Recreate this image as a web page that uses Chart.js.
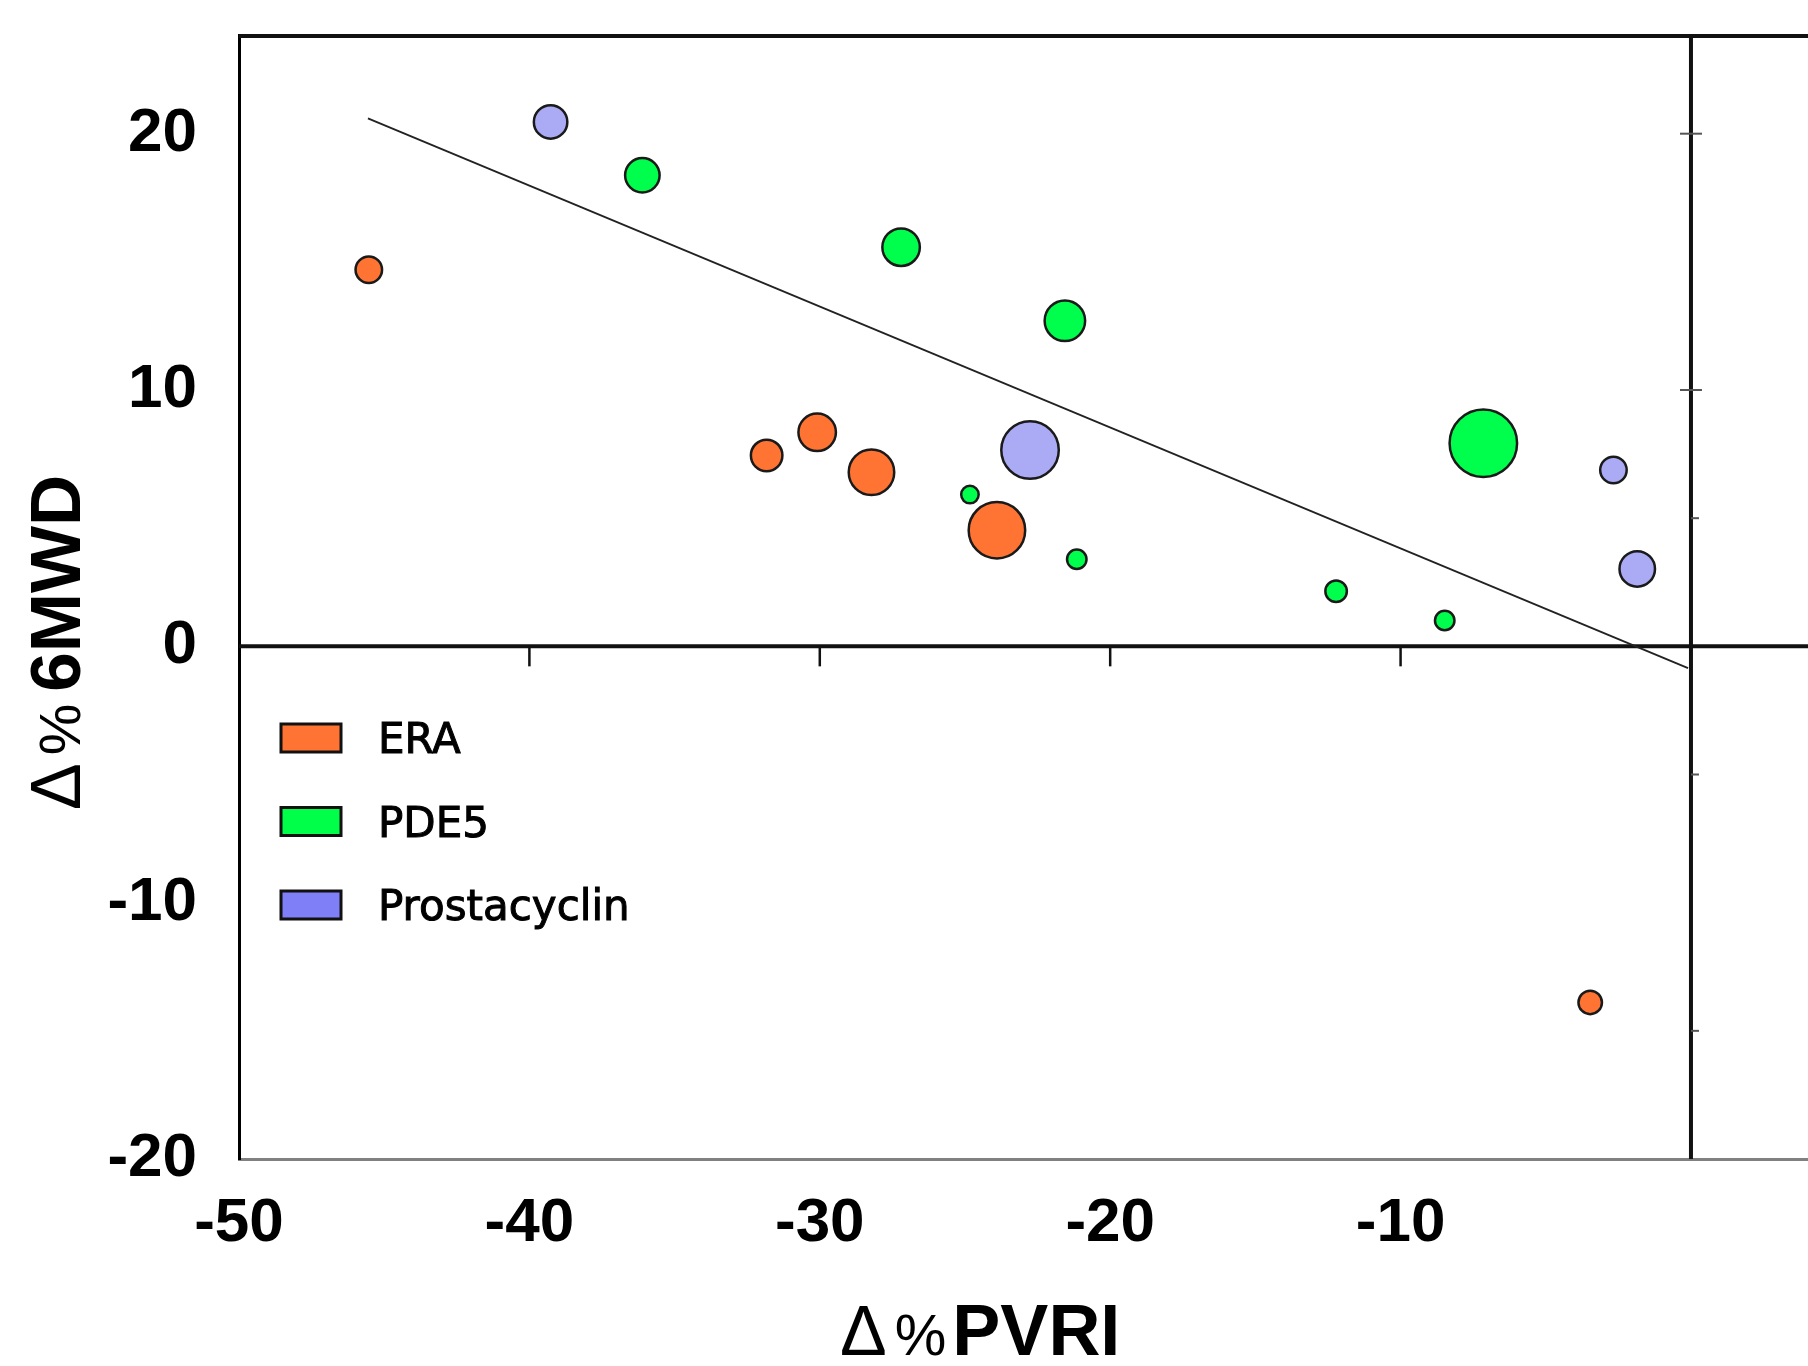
<!DOCTYPE html>
<html>
<head>
<meta charset="utf-8">
<title>Δ%PVRI vs Δ%6MWD</title>
<script src="https://cdn.jsdelivr.net/npm/chart.js@4.4.1/dist/chart.umd.min.js"></script>
<style>
  html, body { margin: 0; padding: 0; background: #fff; }
  canvas { display: block; }
</style>
</head>
<body>
<canvas id="myChart" width="1808" height="1366"></canvas>
<script>
/* ================================
   values
================================ */
const seriesNames = ['ERA', 'PDE5', 'Prostacyclin'];

// ERA
const eraX = [-45.53, -31.83, -30.09, -28.22, -23.9, -3.47];
const eraY = [14.69, 7.45, 8.35, 6.79, 4.53, -13.89];
const eraSize = [14.5, 17, 20, 24, 29.5, 13];

// PDE5
const pdeX = [-36.11, -27.2, -21.56, -24.83, -21.15, -12.22, -8.48, -7.15];
const pdeY = [18.38, 15.57, 12.7, 5.92, 3.4, 2.15, 1.01, 7.92];
const pdeSize = [18.5, 20, 21.5, 10, 11, 12, 11, 35];

// Prostacyclin
const proX = [-39.27, -22.76, -2.67, -1.85];
const proY = [20.46, 7.66, 6.88, 3.02];
const proSize = [18, 30, 14.5, 19];

// fitted line end points
const fitX = [-45.56, -0.1];
const fitY = [20.6, -0.85];

// ticks
const xTicks = [-50, -40, -30, -20, -10];
const yTicks = [-20, -10, 0, 10, 20];
const rightMajorTicks = [20, 10];
const rightMinorTicks = [5, -5, -15];

const pointColors = ['#FF7433', '#00FF4C', '#AAAAF5'];
const legendColors = ['#FF7433', '#00FF48', '#7F7FF7'];
const FONT = '"Liberation Sans", Arial, sans-serif';

function toBubbles(xs, ys, sizes) {
  return xs.map((v, i) => ({ x: v, y: ys[i], r: sizes[i] - 1.25 }));
}

function bubbleSet(name, color, xs, ys, sizes) {
  return {
    label: name,
    data: toBubbles(xs, ys, sizes),
    backgroundColor: color,
    borderColor: '#1a1a1a',
    borderWidth: 2.5,
    order: 0
  };
}

// axis lines through zero, top frame line, little ticks
const crossAxes = {
  id: 'crossAxes',
  beforeDatasetsDraw(chart) {
    const { ctx, chartArea: a, scales: { x, y } } = chart;
    const x0 = x.getPixelForValue(0);
    const y0 = y.getPixelForValue(0);
    const seg = (x1, y1, x2, y2) => {
      ctx.beginPath();
      ctx.moveTo(x1, y1);
      ctx.lineTo(x2, y2);
      ctx.stroke();
    };
    ctx.save();
    ctx.strokeStyle = '#111';
    ctx.lineWidth = 4;
    seg(a.left, a.top + 1, a.right, a.top + 1);
    seg(a.left, y0, a.right, y0);
    seg(x0, a.top, x0, a.bottom);

    ctx.lineWidth = 2.5;
    xTicks.filter(v => v > x.min).forEach(v => {
      const px = x.getPixelForValue(v);
      seg(px, y0, px, y0 + 20);
    });
    ctx.strokeStyle = '#555';
    ctx.lineWidth = 2;
    rightMajorTicks.forEach(v => {
      const py = y.getPixelForValue(v);
      seg(x0 - 11, py, x0 + 11, py);
    });
    rightMinorTicks.forEach(v => {
      const py = y.getPixelForValue(v);
      seg(x0, py, x0 + 8, py);
    });
    ctx.restore();
  }
};

// text bits: axis titles and the legend box
const titlesAndLegend = {
  id: 'titlesAndLegend',
  afterDraw(chart) {
    const { ctx, chartArea: a } = chart;
    ctx.save();
    ctx.fillStyle = '#000';
    ctx.textBaseline = 'alphabetic';
    ctx.textAlign = 'left';

    const drawParts = (parts, startX, baseY) => {
      let cx = startX;
      parts.forEach(p => {
        ctx.font = p.font;
        ctx.fillText(p.text, cx, baseY);
        cx += ctx.measureText(p.text).width + p.gap;
      });
    };

    // x title
    drawParts([
      { text: 'Δ', font: '70px ' + FONT, gap: 8 },
      { text: '%', font: '58px ' + FONT, gap: 6 },
      { text: 'PVRI', font: 'bold 72px ' + FONT, gap: 0 }
    ], 840, 1355);

    // y title, rotated
    ctx.save();
    ctx.translate(80, 810);
    ctx.rotate(-Math.PI / 2);
    drawParts([
      { text: 'Δ', font: '70px ' + FONT, gap: 8 },
      { text: '%', font: '58px ' + FONT, gap: 12 },
      { text: '6MWD', font: 'bold 71px ' + FONT, gap: 0 }
    ], 0, 0);
    ctx.restore();

    // legend
    ctx.font = '42px "DejaVu Sans", sans-serif';
    seriesNames.forEach((name, i) => {
      const cy = 738 + i * 83.5;
      const bx = a.left + 42;
      ctx.fillStyle = legendColors[i];
      ctx.fillRect(bx, cy - 14, 60, 28);
      ctx.strokeStyle = '#111';
      ctx.lineWidth = 3;
      ctx.strokeRect(bx, cy - 14, 60, 28);
      ctx.fillStyle = '#000';
      ctx.fillText(name, 378, cy + 15);
      ctx.lineWidth = 1;
      ctx.strokeStyle = '#000';
      ctx.strokeText(name, 378, cy + 15);
    });
    ctx.restore();
  }
};

const ctx = document.getElementById('myChart');

const myChart = new Chart(ctx, {
  type: 'bubble',
  data: {
    datasets: [
      bubbleSet(seriesNames[0], pointColors[0], eraX, eraY, eraSize),
      bubbleSet(seriesNames[1], pointColors[1], pdeX, pdeY, pdeSize),
      bubbleSet(seriesNames[2], pointColors[2], proX, proY, proSize),
      {
        type: 'line',
        label: 'fit',
        data: fitX.map((v, i) => ({ x: v, y: fitY[i] })),
        borderColor: '#222',
        borderWidth: 1.8,
        pointRadius: 0,
        fill: false,
        order: 1
      }
    ]
  },
  options: {
    responsive: false,
    animation: false,
    events: [],
    layout: { autoPadding: false, padding: { top: 35, right: 0, bottom: 0, left: 0 } },
    plugins: {
      legend: { display: false },
      tooltip: { enabled: false }
    },
    scales: {
      x: {
        type: 'linear',
        min: -50,
        max: 4.03,
        afterFit: (s) => {
          s.height = 207;
          s.paddingLeft = 0;
          s.paddingRight = 0;
        },
        afterBuildTicks: (s) => { s.ticks = xTicks.map(v => ({ value: v })); },
        grid: { display: false, drawTicks: false },
        border: { display: true, color: '#808080', width: 3 },
        ticks: {
          padding: 28,
          color: '#000',
          font: { family: FONT, size: 62, weight: 'bold' }
        }
      },
      y: {
        type: 'linear',
        min: -20,
        max: 23.85,
        afterFit: (s) => {
          s.width = 239;
          s.paddingTop = 0;
          s.paddingBottom = 0;
        },
        afterBuildTicks: (s) => { s.ticks = yTicks.map(v => ({ value: v })); },
        grid: { display: false, drawTicks: false },
        border: { display: true, color: '#000', width: 3 },
        ticks: {
          padding: 42,
          color: '#000',
          font: { family: FONT, size: 62, weight: 'bold' }
        }
      }
    }
  },
  plugins: [crossAxes, titlesAndLegend]
});
</script>
</body>
</html>
